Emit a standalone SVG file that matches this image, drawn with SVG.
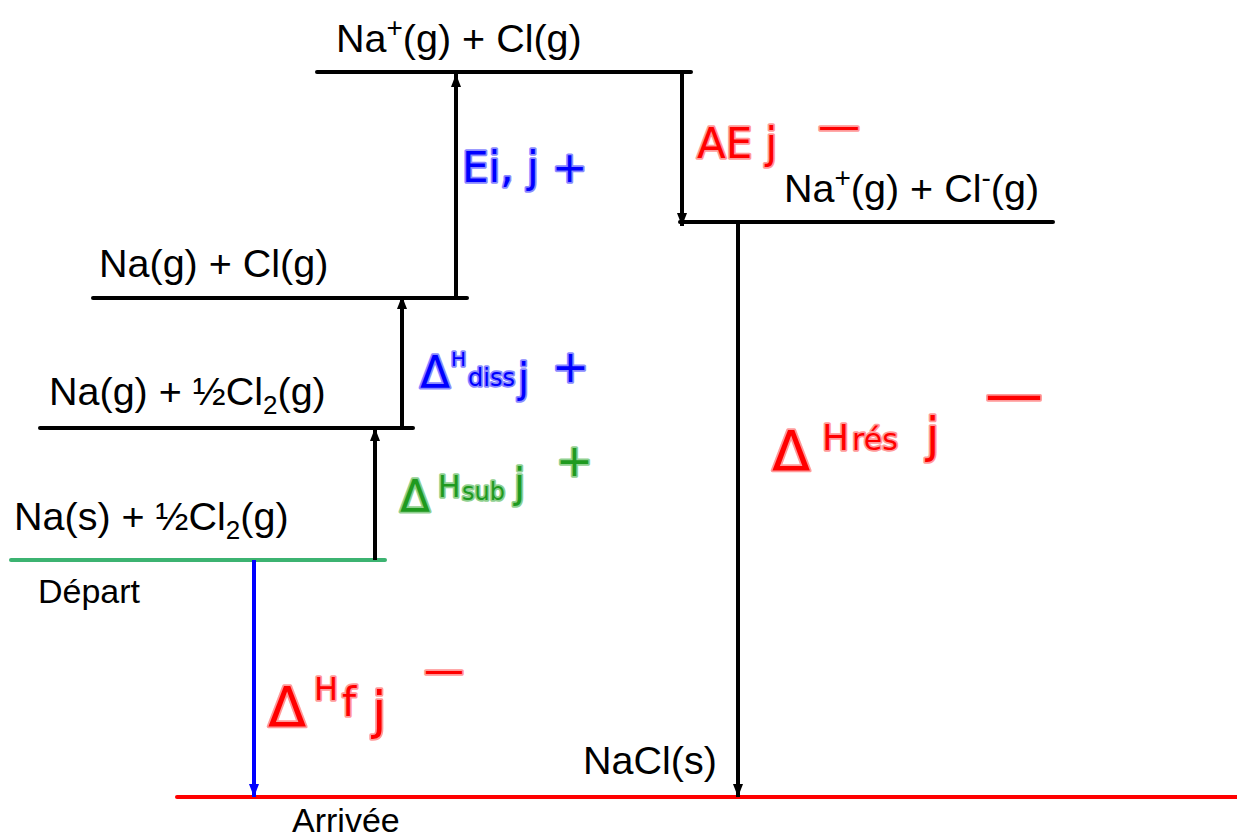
<svg xmlns="http://www.w3.org/2000/svg" width="1237" height="839" viewBox="0 0 1237 839">
<style>
.lbl{font-family:"Liberation Sans",Arial,sans-serif;font-size:39.5px;fill:#000}
.sm{font-family:"Liberation Sans",Arial,sans-serif;font-size:34px;fill:#000}
.lvl{stroke:#000;stroke-width:4;stroke-linecap:round;fill:none}
.arr{stroke:#000;stroke-width:4;fill:none}
.hw{font-family:"DejaVu Sans","Liberation Sans",sans-serif;paint-order:stroke;stroke-width:3.5;stroke-linejoin:round}
.b{fill:#0000ff;stroke:#8a8aff}
.r{fill:#ff0000;stroke:#ff9a9a}
.g{fill:#1f9a1f;stroke:#8fd08f}
</style>
<defs>
<marker id="ah" viewBox="0 0 13 10" refX="13" refY="5" markerWidth="13" markerHeight="10" markerUnits="userSpaceOnUse" orient="auto">
<path d="M0,0 L13,5 L0,10 Z" fill="#000"/>
</marker>
<marker id="ahb" viewBox="0 0 13 10" refX="13" refY="5" markerWidth="13" markerHeight="10" markerUnits="userSpaceOnUse" orient="auto">
<path d="M0,0 L13,5 L0,10 Z" fill="#0000ff"/>
</marker>
</defs>

<g id="level-top">
<line class="lvl" x1="317" y1="72" x2="691" y2="72"/>
<text class="lbl" x="336" y="52">Na<tspan font-size="28" dy="-15">+</tspan><tspan dy="15">(g) + Cl(g)</tspan></text>
</g>
<g id="level-ions">
<line class="lvl" x1="680" y1="222" x2="1053" y2="222"/>
<text class="lbl" x="784" y="202">Na<tspan font-size="28" dy="-15">+</tspan><tspan dy="15">(g) + Cl</tspan><tspan font-size="28" dy="-15">-</tspan><tspan dy="15">(g)</tspan></text>
</g>
<g id="level-atoms">
<line class="lvl" x1="93" y1="298" x2="467" y2="298"/>
<text class="lbl" x="99" y="277">Na(g) + Cl(g)</text>
</g>
<g id="level-gas-na">
<line class="lvl" x1="40" y1="428" x2="413" y2="428"/>
<text class="lbl" x="49" y="405">Na(g) + ½Cl<tspan font-size="26" dy="9">2</tspan><tspan dy="-9">(g)</tspan></text>
</g>
<g id="level-start">
<line x1="11" y1="560" x2="385" y2="560" stroke="#3cb371" stroke-width="4" stroke-linecap="round"/>
<text class="lbl" x="14" y="530">Na(s) + ½Cl<tspan font-size="26" dy="9">2</tspan><tspan dy="-9">(g)</tspan></text>
<text class="sm" x="38" y="603">Départ</text>
</g>
<g id="level-end">
<line x1="177" y1="797" x2="1237" y2="797" stroke="#ff0000" stroke-width="4" stroke-linecap="round"/>
<text class="lbl" x="583" y="774">NaCl(s)</text>
<text class="sm" x="292" y="832">Arrivée</text>
</g>

<g id="connectors">
<line class="arr" x1="375" y1="560" x2="375" y2="428" marker-end="url(#ah)"/>
<line class="arr" x1="402" y1="428" x2="402" y2="296" marker-end="url(#ah)"/>
<line class="arr" x1="456" y1="298" x2="456" y2="74" marker-end="url(#ah)"/>
<line class="arr" x1="682" y1="72" x2="682" y2="226" marker-end="url(#ah)"/>
<line class="arr" x1="738" y1="222" x2="738" y2="797" marker-end="url(#ah)"/>
<line x1="254" y1="560" x2="254" y2="797" stroke="#0000ff" stroke-width="4" marker-end="url(#ahb)"/>
</g>

<g id="annotations">
<text class="hw b" font-size="42" x="462" y="182">Ei, j +</text>
<text class="hw r" font-size="42"><tspan x="697" y="158">AE j</tspan><tspan x="818" y="140">—</tspan></text>
<text class="hw b"><tspan x="420" y="388" font-size="44">Δ</tspan><tspan x="451" y="366" font-size="20">H</tspan><tspan x="468" y="386" font-size="24">diss</tspan><tspan x="518" y="392" font-size="40">j</tspan><tspan x="552" y="382" font-size="44">+</tspan></text>
<text class="hw g"><tspan x="400" y="512" font-size="44">Δ</tspan><tspan x="438" y="497" font-size="30">H</tspan><tspan x="462" y="500" font-size="24">sub</tspan><tspan x="514" y="497" font-size="40">j</tspan><tspan x="556" y="476" font-size="44">+</tspan></text>
<text class="hw r"><tspan x="772" y="470" font-size="56">Δ</tspan><tspan x="822" y="450" font-size="36">H</tspan><tspan x="852" y="450" font-size="30">rés</tspan><tspan x="926" y="452" font-size="48">j</tspan><tspan x="985" y="414" font-size="58">—</tspan></text>
<text class="hw r"><tspan x="268" y="726" font-size="56">Δ</tspan><tspan x="314" y="700" font-size="32">H</tspan><tspan x="342" y="716" font-size="40">f</tspan><tspan x="372" y="728" font-size="52">j</tspan><tspan x="424" y="684" font-size="40">—</tspan></text>
</g>
</svg>
